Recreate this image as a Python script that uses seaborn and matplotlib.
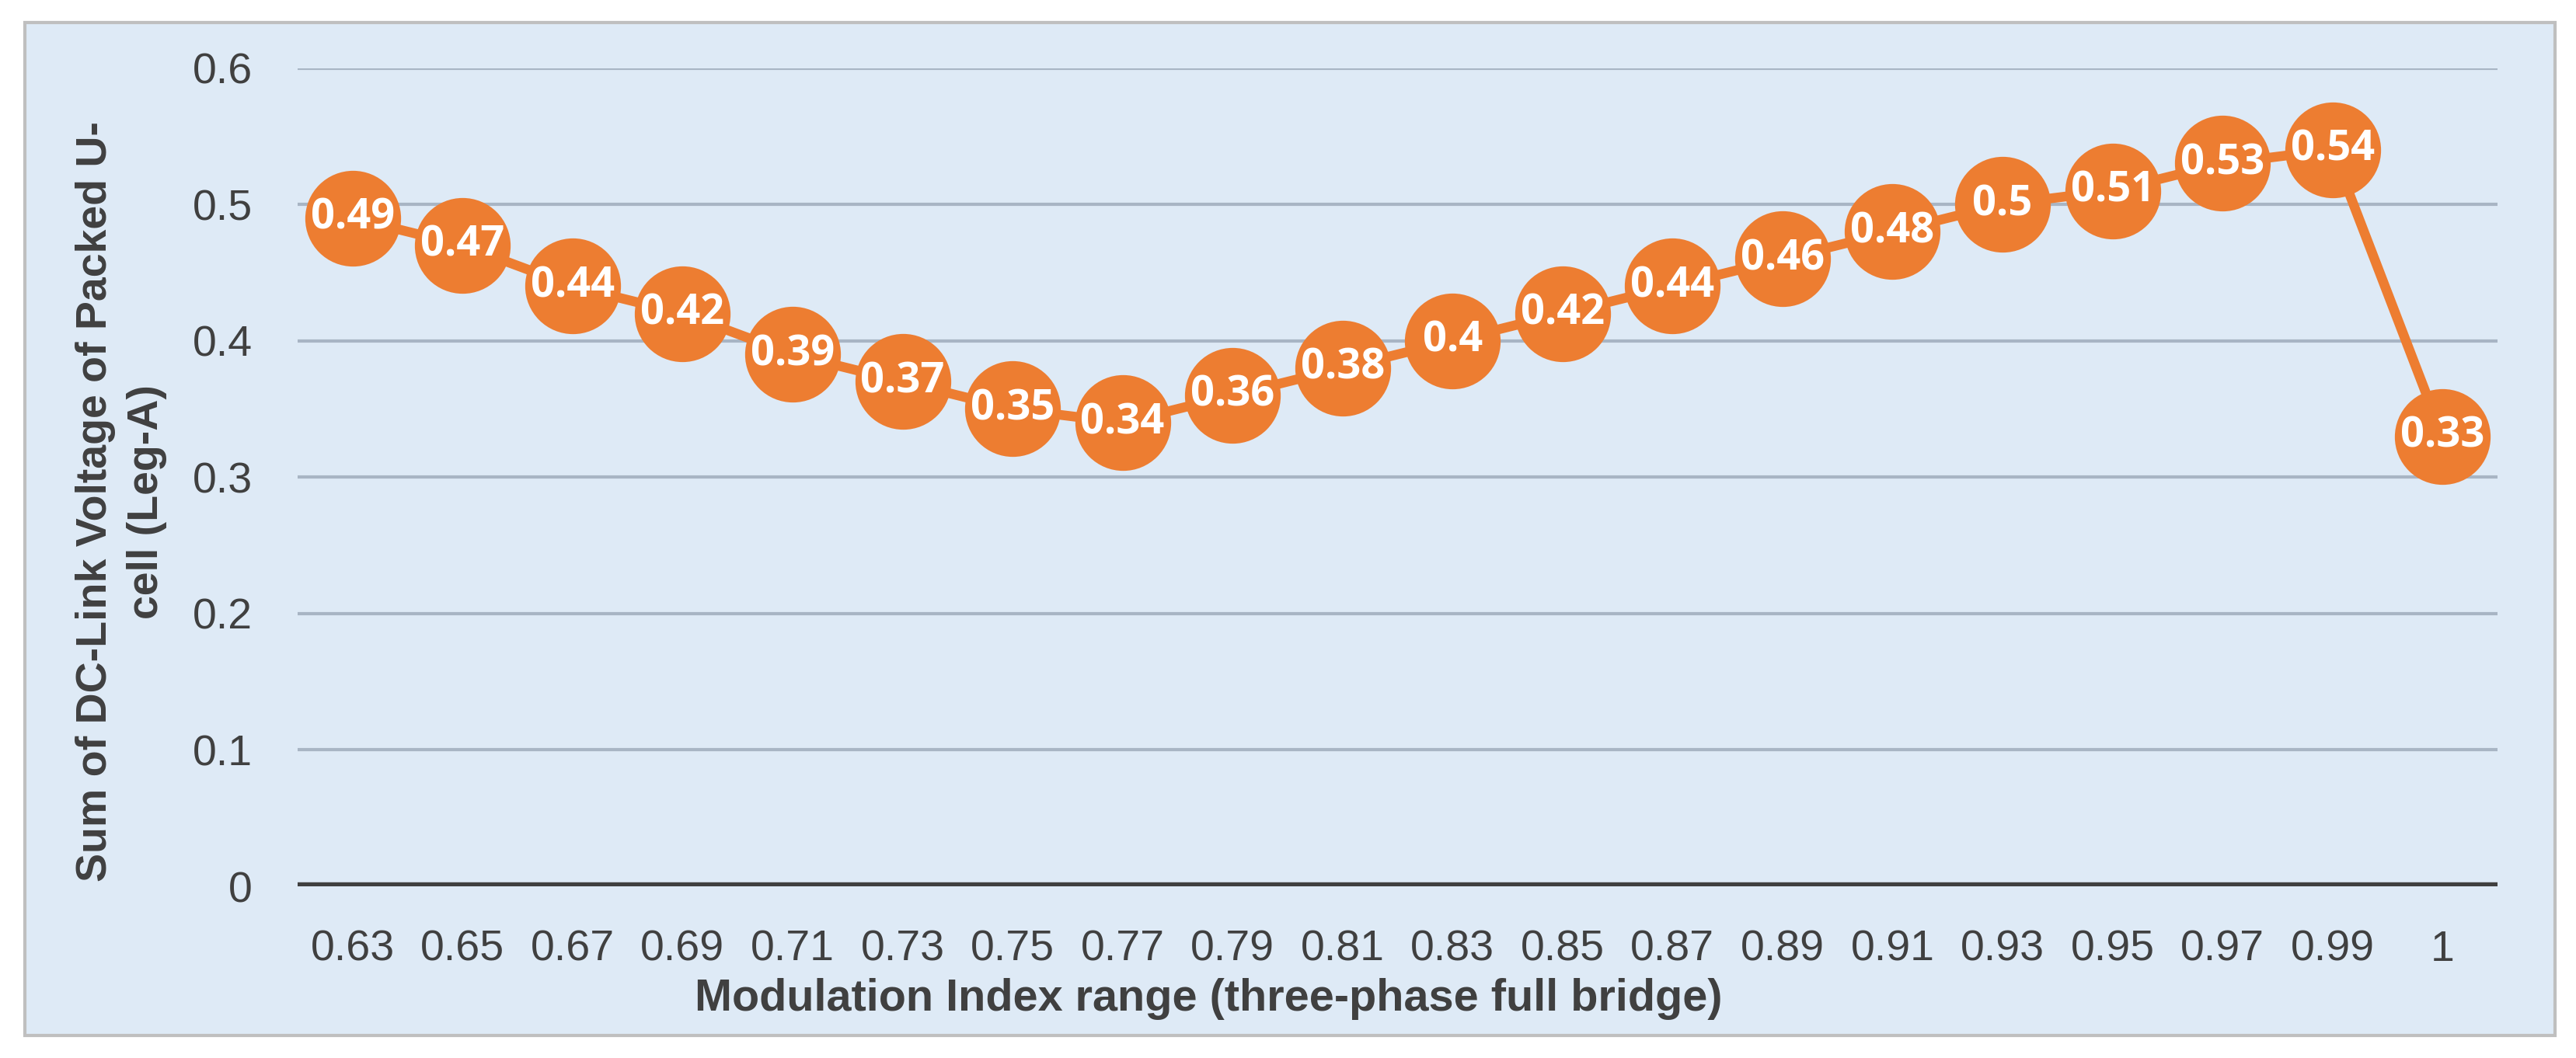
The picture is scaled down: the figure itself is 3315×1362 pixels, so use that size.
import numpy as np
import pandas as pd
import seaborn as sns
import matplotlib.pyplot as plt
from matplotlib.patches import Rectangle

mod_index = ["0.63", "0.65", "0.67", "0.69", "0.71", "0.73", "0.75", "0.77", "0.79", "0.81",
             "0.83", "0.85", "0.87", "0.89", "0.91", "0.93", "0.95", "0.97", "0.99", "1"]
dc_sum = [0.49, 0.47, 0.44, 0.42, 0.39, 0.37, 0.35, 0.34, 0.36, 0.38,
          0.4, 0.42, 0.44, 0.46, 0.48, 0.5, 0.51, 0.53, 0.54, 0.33]
y_ticks = [0, 0.1, 0.2, 0.3, 0.4, 0.5, 0.6]

df = pd.DataFrame({"m": mod_index, "v": dc_sum})

sns.set_style("white")
plt.rcParams['font.family'] = ['Liberation Sans', 'DejaVu Sans']

bg = "#DEEAF6"
orange = "#ED7D31"
dark = "#404040"

W, H = 3315, 1362
fig = plt.figure(figsize=(W / 100, H / 100), dpi=100)
fig.patch.set_facecolor("white")
# chart area frame
fig.patches.append(Rectangle((32 / W, 1 - 1333 / H), (3288 - 32) / W, (1333 - 29) / H,
                             transform=fig.transFigure, facecolor=bg, edgecolor="#BFBFBF",
                             linewidth=3, zorder=-10))

ax = fig.add_axes([383 / W, 1 - 1141 / H, (3214 - 383) / W, (1141 - 87.5) / H])
ax.set_facecolor(bg)

sns.pointplot(data=df, x="m", y="v", color=orange, markersize=82, linewidth=9, ax=ax)
for coll in ax.collections:
    coll.set_clip_on(False)
for ln in ax.lines:
    ln.set_clip_on(False)
    ln.set_zorder(4)

for i, v in enumerate(dc_sum):
    ax.text(i, v, f"{v:g}", ha="center", va="center", color="white", fontsize=39,
            fontweight="bold", family=['Open Sans', 'DejaVu Sans'], zorder=6)

ax.set_ylim(0, 0.6)
ax.set_yticks(y_ticks)
ax.set_yticklabels([f"{t:g}" for t in y_ticks])
ax.grid(axis="y", color="#A8B5C4", linewidth=3)
ax.set_axisbelow(True)
ax.axhline(0, color=dark, linewidth=7.5, zorder=3)
for s in ax.spines.values():
    s.set_visible(False)
ax.tick_params(axis="both", length=0, labelsize=40, colors=dark)
ax.tick_params(axis="y", pad=42)
ax.tick_params(axis="x", pad=40)

ax.set_xlabel("Modulation Index range (three-phase full bridge)", fontsize=41.5,
              fontweight="bold", color=dark)
ax.xaxis.set_label_coords((1555 - 383) / (3214 - 383), -0.112)
ax.set_ylabel("Sum of DC-Link Voltage of Packed U-\ncell (Leg-A)", fontsize=40,
              fontweight="bold", color=dark, linespacing=1.35)
ax.yaxis.set_label_coords((215 - 383) / (3214 - 383), 0.47)

fig.savefig("out.png", dpi=100, facecolor="white")
